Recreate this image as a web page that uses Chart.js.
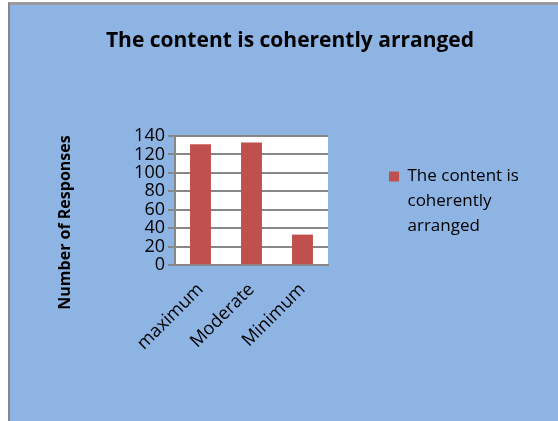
<!DOCTYPE html>
<html><head><meta charset="utf-8">
<script src="https://cdn.jsdelivr.net/npm/chart.js@4.4.1/dist/chart.umd.min.js"></script>
<style>
html,body{margin:0;padding:0;background:#fff;}
#wrap{position:relative;width:558px;height:421px;overflow:hidden;}
#frame{position:absolute;left:8px;top:2px;right:0;bottom:0;background:#8EB4E3;border-left:2px solid #878787;border-top:3px solid #9a9a9a;}
canvas{position:absolute;left:0;top:0;}
</style></head><body>
<div id="wrap"><div id="frame"></div><canvas id="c" width="558" height="421"></canvas></div>
<script>
const categories = ['maximum', 'Moderate', 'Minimum'];
const responses = [131, 133, 33];
const seriesName = 'The content is coherently arranged';
const legendLines = ['The content is', 'coherently', 'arranged'];
const chartTitle = 'The content is coherently arranged';
const yAxisTitle = 'Number of Responses';
const yMin = 0, yMax = 140, yStep = 20;

const FONT = "'Open Sans', 'DejaVu Sans', sans-serif";
const GRID = '#878787';
const BAR = '#C0504D';

const plotBg = {
  id: 'plotBg',
  beforeDraw(chart) {
    const { ctx, chartArea: a } = chart;
    ctx.save();
    ctx.fillStyle = '#ffffff';
    ctx.fillRect(a.left, a.top, a.right - a.left, a.bottom - a.top);
    ctx.restore();
  }
};
const yTitlePlugin = {
  id: 'yTitlePlugin',
  afterDraw(chart) {
    const { ctx, chartArea: a } = chart;
    ctx.save();
    ctx.translate(a.left - 110, (a.top + a.bottom) / 2 + 22);
    ctx.rotate(-Math.PI / 2);
    ctx.font = "bold 16px " + FONT;
    ctx.fillStyle = '#000';
    ctx.textAlign = 'center';
    ctx.textBaseline = 'middle';
    ctx.fillText(yAxisTitle, 0, 0);
    ctx.restore();
  }
};

new Chart(document.getElementById('c'), {
  type: 'bar',
  data: {
    labels: categories,
    datasets: [{
      label: seriesName,
      data: responses,
      backgroundColor: BAR,
      borderWidth: 0,
      barPercentage: 0.41,
      categoryPercentage: 1.0
    }]
  },
  options: {
    responsive: false,
    animation: false,
    devicePixelRatio: 1,
    layout: { padding: { left: 62, right: 40, top: 0, bottom: 10 } },
    plugins: {
      title: {
        display: true,
        text: chartTitle,
        color: '#000',
        font: { family: FONT, size: 21, weight: 'bold', lineHeight: 1.2 },
        padding: { top: 28, bottom: 82.8 }
      },
      legend: {
        display: true,
        position: 'right',
        align: 'center',
        maxWidth: 190,
        labels: {
          color: '#000',
          font: { family: FONT, size: 17, lineHeight: 25 / 17 },
          boxWidth: 10,
          boxHeight: 10,
          padding: 61,
          generateLabels(chart) {
            const items = Chart.defaults.plugins.legend.labels.generateLabels(chart);
            items.forEach(it => { it.text = legendLines; it.lineWidth = 0; });
            return items;
          }
        }
      },
      tooltip: { enabled: false }
    },
    scales: {
      x: {
        grid: { display: false },
        border: { display: true, color: GRID, width: 2 },
        ticks: {
          color: '#000',
          font: { family: FONT, size: 18 },
          minRotation: 45,
          maxRotation: 45,
          autoSkip: false,
          padding: 6
        },
        afterFit(s) { s.height = 146; }
      },
      y: {
        min: yMin,
        max: yMax,
        ticks: {
          stepSize: yStep,
          autoSkip: false,
          color: '#000',
          font: { family: FONT, size: 18, lineHeight: 1 },
          padding: 3
        },
        grid: { color: GRID, lineWidth: 2, tickLength: 7, drawTicks: true },
        border: { display: true, color: GRID, width: 2 },
        afterFit(s) { s.width = 113; }
      }
    }
  },
  plugins: [plotBg, yTitlePlugin]
});
</script>
</body></html>
